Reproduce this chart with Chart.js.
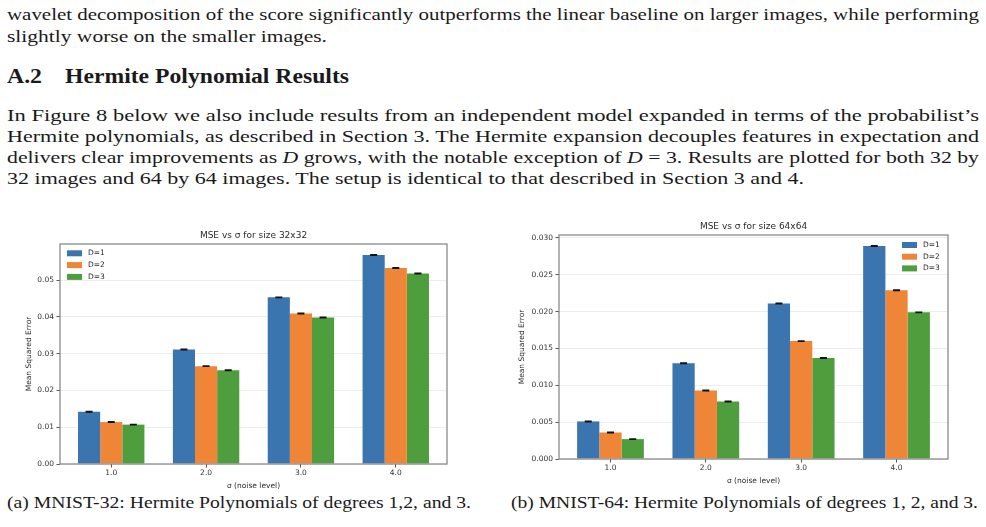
<!DOCTYPE html>
<html>
<head>
<meta charset="utf-8">
<script src="https://cdn.jsdelivr.net/npm/chart.js@4.4.1/dist/chart.umd.min.js"></script>
<style>
  html, body { margin: 0; padding: 0; background: #fff; }
  body { width: 986px; height: 527px; position: relative; overflow: hidden; }
  .t { position: absolute; white-space: nowrap; font-family: "Liberation Serif", "Times New Roman", serif;
       color: #1a1a1a; line-height: 1; transform-origin: 0 0; display: inline-block; }
  .b { font-size: 17.5px; }
  .h { font-size: 20.5px; font-weight: bold; }
  .c { font-size: 16px; }
  canvas { position: absolute; }
</style>
</head>
<body>
<span class="t b" style="left:7px;top:6.0px" data-w="972">wavelet decomposition of the score significantly outperforms the linear baseline on larger images, while performing</span>
<span class="t b" style="left:7px;top:28.0px" data-w="320">slightly worse on the smaller images.</span>
<span class="t h" style="left:7px;top:65.5px" data-w="35">A.2</span>
<span class="t h" style="left:65px;top:65.5px" data-w="284">Hermite Polynomial Results</span>
<span class="t b" style="left:7px;top:107.0px" data-w="972">In Figure 8 below we also include results from an independent model expanded in terms of the probabilist’s</span>
<span class="t b" style="left:7px;top:127.6px" data-w="972">Hermite polynomials, as described in Section 3. The Hermite expansion decouples features in expectation and</span>
<span class="t b" style="left:7px;top:148.6px" data-w="972">delivers clear improvements as <i>D</i> grows, with the notable exception of <i>D</i> = 3. Results are plotted for both 32 by</span>
<span class="t b" style="left:7px;top:169.6px" data-w="797">32 images and 64 by 64 images. The setup is identical to that described in Section 3 and 4.</span>
<span class="t c" style="left:7px;top:494.9px" data-w="464">(a) MNIST-32: Hermite Polynomials of degrees 1,2, and 3.</span>
<span class="t c" style="left:511px;top:494.9px" data-w="467">(b) MNIST-64: Hermite Polynomials of degrees 1, 2, and 3.</span>

<canvas id="c1" width="490" height="272" style="left:0px;top:222px;width:490px;height:272px"></canvas>
<canvas id="c2" width="491" height="277" style="left:495px;top:212px;width:491px;height:277px"></canvas>

<script>
// ---- data ----
const sigmas = [1.0, 2.0, 3.0, 4.0];
const seriesLabels = ['D=1', 'D=2', 'D=3'];
const seriesColors = ['#3a75b0', '#ef8536', '#4f9e3e'];

const mse32_D1 = [0.0142, 0.0311, 0.0453, 0.0568];
const mse32_D2 = [0.0114, 0.0266, 0.0409, 0.0533];
const mse32_D3 = [0.0107, 0.0255, 0.0398, 0.0518];
const err32_D1 = [0.0001, 0.0001, 0.0001, 0.0001];
const err32_D2 = [0.0001, 0.0001, 0.0001, 0.0001];
const err32_D3 = [0.0001, 0.0001, 0.0001, 0.0001];

const mse64_D1 = [0.0051, 0.0130, 0.0211, 0.0289];
const mse64_D2 = [0.0036, 0.0093, 0.0160, 0.0229];
const mse64_D3 = [0.0027, 0.0078, 0.0137, 0.0199];
const err64_D1 = [0.00005, 0.00005, 0.00005, 0.00005];
const err64_D2 = [0.00005, 0.00005, 0.00005, 0.00005];
const err64_D3 = [0.00005, 0.00005, 0.00005, 0.00005];

const yTicks32 = [0.00, 0.01, 0.02, 0.03, 0.04, 0.05];
const yTicks64 = [0.000, 0.005, 0.010, 0.015, 0.020, 0.025, 0.030];

// ---- fit text widths ----
document.querySelectorAll('[data-w]').forEach(el => {
  const w = el.getBoundingClientRect().width;
  el.style.transform = 'scaleX(' + (parseFloat(el.dataset.w) / w) + ')';
});

Chart.defaults.font.family = '"DejaVu Sans", sans-serif';
Chart.defaults.color = '#2a2a2a';

const frameAndErrors = {
  id: 'frameAndErrors',
  afterDatasetsDraw(chart) {
    const ctx = chart.ctx, ys = chart.scales.y, a = chart.chartArea;
    ctx.save();
    chart.data.datasets.forEach((ds, i) => {
      const meta = chart.getDatasetMeta(i);
      meta.data.forEach((bar, j) => {
        const v = ds.data[j].y, e = ds.errors[j];
        const y1 = ys.getPixelForValue(v - e), y2 = ys.getPixelForValue(v + e);
        ctx.strokeStyle = '#111';
        ctx.lineWidth = 1.2;
        ctx.beginPath();
        ctx.moveTo(bar.x, y1); ctx.lineTo(bar.x, y2);
        ctx.moveTo(bar.x - 3.5, y1); ctx.lineTo(bar.x + 3.5, y1);
        ctx.moveTo(bar.x - 3.5, y2); ctx.lineTo(bar.x + 3.5, y2);
        ctx.stroke();
      });
    });
    ctx.strokeStyle = '#8a8a8a';
    ctx.lineWidth = 1.3;
    ctx.strokeRect(a.left, a.top, a.right - a.left, a.bottom - a.top);
    // legend
    const lg = chart.options.plugins.innerLegend;
    ctx.font = '7.5px "DejaVu Sans", sans-serif';
    ctx.textBaseline = 'middle';
    ctx.textAlign = 'left';
    chart.data.datasets.forEach((ds, i) => {
      const bx = lg.right ? a.right - lg.dx : a.left + lg.dx;
      const cy = a.top + lg.dy + i * lg.step;
      ctx.fillStyle = ds.backgroundColor;
      ctx.fillRect(bx, cy - 3, 15, 6);
      ctx.fillStyle = '#2a2a2a';
      ctx.fillText(ds.label, bx + 21, cy);
    });
    ctx.restore();
  }
};

function makeChart(id, title, series, errs, yTicks, yMax, digits, pad, yWidth, titlePadTop, legend) {
  const datasets = series.map((s, k) => ({
    label: seriesLabels[k],
    data: sigmas.map((x, j) => ({ x: x, y: s[j] })),
    errors: errs[k],
    backgroundColor: seriesColors[k],
    borderWidth: 0,
    categoryPercentage: 0.7,
    barPercentage: 1.0
  }));
  return new Chart(document.getElementById(id), {
    type: 'bar',
    data: { datasets },
    plugins: [frameAndErrors],
    options: {
      responsive: false,
      animation: false,
      devicePixelRatio: 1,
      layout: { padding: pad },
      plugins: {
        legend: { display: false },
        tooltip: { enabled: false },
        title: { display: true, fullSize: false, text: title, font: { size: 9, weight: 'normal' }, color: '#2a2a2a',
                 padding: { top: titlePadTop, bottom: 3.2 } },
        innerLegend: legend
      },
      scales: {
        x: {
          type: 'linear', min: 0.46, max: 4.54, offset: false,
          afterBuildTicks: s => { s.ticks = sigmas.map(v => ({ value: v })); },
          afterFit: s => { s.height = 30; },
          ticks: { callback: v => v.toFixed(1), font: { size: 7.5 }, padding: 1, maxRotation: 0, color: '#333' },
          grid: { drawOnChartArea: false, offset: false, tickLength: 3.5, tickColor: '#555' },
          border: { display: false },
          title: { display: true, text: 'σ (noise level)', font: { size: 7.5 }, padding: { top: 0, bottom: 3 }, color: '#2a2a2a' }
        },
        y: {
          min: 0, max: yMax,
          afterBuildTicks: s => { s.ticks = yTicks.map(v => ({ value: v })); },
          afterFit: s => { s.width = yWidth; },
          ticks: { callback: v => v.toFixed(digits), font: { size: 7.5 }, padding: 2.5, color: '#333' },
          grid: { color: 'rgba(0,0,0,0.07)', tickLength: 3.5, tickColor: '#555' },
          border: { display: false },
          title: { display: true, text: 'Mean Squared Error', font: { size: 7.5 }, padding: 0, color: '#2a2a2a' }
        }
      }
    }
  });
}

makeChart('c1', 'MSE vs σ for size 32x32',
  [mse32_D1, mse32_D2, mse32_D3], [err32_D1, err32_D2, err32_D3],
  yTicks32, 0.0598, 2, { left: 25, right: 43, top: 0, bottom: 0 }, 35, 8,
  { right: false, dx: 7, dy: 9.3, step: 11.8 });

makeChart('c2', 'MSE vs σ for size 64x64',
  [mse64_D1, mse64_D2, mse64_D3], [err64_D1, err64_D2, err64_D3],
  yTicks64, 0.0304, 3, { left: 23, right: 38, top: 0, bottom: 0 }, 41, 9,
  { right: true, dx: 46, dy: 10, step: 11.7 });
</script>
</body>
</html>
